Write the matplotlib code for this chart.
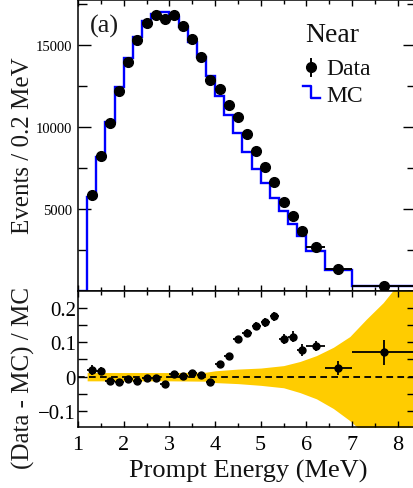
import numpy as np
import matplotlib
matplotlib.use("Agg")
import matplotlib.pyplot as plt
from matplotlib.lines import Line2D
from matplotlib.ticker import MultipleLocator

plt.rcParams['font.family'] = ['Liberation Serif', 'DejaVu Serif']

# bin edges (MeV) -- 0.2 MeV bins up to 6, then wider ones
edges = [1.0, 1.2, 1.4, 1.6, 1.8, 2.0, 2.2, 2.4, 2.6, 2.8, 3.0, 3.2, 3.4, 3.6,
         3.8, 4.0, 4.2, 4.4, 4.6, 4.8, 5.0, 5.2, 5.4, 5.6, 5.8, 6.0, 6.4, 7.0, 8.4]
mc = [0, 5713, 8152, 10323, 12420, 14189, 15467, 16482, 16890, 16992, 16700,
      16077, 15203, 14248, 13089, 11911, 10732, 9614, 8496, 7439, 6565, 5650,
      4898, 4085, 3374, 2459, 1301, 285]

# data points (bin centres)
centers = [1.3, 1.5, 1.7, 1.9, 2.1, 2.3, 2.5, 2.7, 2.9, 3.1, 3.3, 3.5, 3.7, 3.9,
           4.1, 4.3, 4.5, 4.7, 4.9, 5.1, 5.3, 5.5, 5.7, 5.9, 6.2, 6.7, 7.7]
data = [5854, 8252, 10244, 12195, 13984, 15305, 16341, 16829, 16585, 16829,
        16179, 15366, 14289, 12866, 12317, 11341, 10589, 9573, 8557, 7581,
        6667, 5407, 4553, 3659, 2703, 1341, 285]
data_err = [76, 91, 101, 110, 118, 124, 128, 130, 129, 130, 127, 124, 120, 113,
            111, 106, 103, 98, 92, 87, 82, 74, 67, 60, 52, 37, 17]

# (Data - MC) / MC
ratio = [0.020, 0.016, -0.013, -0.016, -0.008, -0.011, -0.005, -0.005, -0.021,
         0.008, 0.002, 0.012, 0.006, -0.015, 0.036, 0.059, 0.108, 0.127, 0.146,
         0.157, 0.175, 0.109, 0.116, 0.078, 0.088, 0.025, 0.070]
ratio_err = [0.014, 0.012, 0.010, 0.009, 0.009, 0.008, 0.008, 0.008, 0.008,
             0.008, 0.008, 0.008, 0.009, 0.009, 0.009, 0.010, 0.010, 0.011,
             0.011, 0.012, 0.013, 0.014, 0.015, 0.017, 0.014, 0.020, 0.036]

# systematic band
band_x = [1.2, 3.0, 3.8, 4.0, 4.5, 5.0, 5.5, 5.86, 6.22, 6.59, 6.95, 7.31, 7.68, 7.9, 8.4]
band_up = [0.012, 0.012, 0.013, 0.017, 0.022, 0.025, 0.032, 0.044, 0.061, 0.085,
           0.116, 0.166, 0.214, 0.25, 0.36]
band_dn = [-0.012, -0.012, -0.013, -0.017, -0.020, -0.025, -0.032, -0.046, -0.064,
           -0.092, -0.127, -0.17, -0.22, -0.25, -0.36]

top_ticks = [5000, 10000, 15000]
ratio_ticks = [-0.1, 0, 0.1, 0.2]
ratio_labels = ['\u22120.1', '0', '0.1', '0.2']
x_ticks = [1, 2, 3, 4, 5, 6, 7, 8]

edges_a = np.array(edges)
xerr = np.diff(edges_a)[1:] / 2

W, H = 414, 489
fig = plt.figure(figsize=(W / 100, H / 100), dpi=100)
ax1 = fig.add_axes([78 / W, 1 - 292 / H, 1.005 - 78 / W, 291.5 / H])
ax2 = fig.add_axes([78 / W, 1 - 428 / H, 1.005 - 78 / W, 136 / H])

# top panel
ax1.stairs(mc, edges, color='#0000ff', lw=1.7, zorder=2)
ax1.errorbar(centers, data, yerr=data_err, xerr=xerr, fmt='o', color='k',
             ms=7, elinewidth=1.4, capsize=0, zorder=3)
ax1.set_xlim(1, 8.4)
ax1.set_ylim(0, 17780)
ax1.set_yticks(top_ticks)
ax1.yaxis.set_minor_locator(MultipleLocator(2500))
ax1.xaxis.set_major_locator(MultipleLocator(1))
ax1.xaxis.set_minor_locator(MultipleLocator(0.5))
ax1.tick_params(which='both', direction='in', top=True, right=True,
                labelbottom=False, width=1.0)
ax1.tick_params(axis='y', which='major', length=9.5, labelsize=10.5, pad=4)
ax1.tick_params(axis='y', which='minor', length=6.5)
ax1.tick_params(axis='x', which='major', length=4)
ax1.tick_params(axis='x', which='minor', length=3)

# ratio panel
ax2.fill_between(band_x, band_dn, band_up, color='#ffcc00', lw=0, zorder=1)
ax2.axhline(0, color='k', lw=1.3, ls=(0, (3.7, 2.4)), zorder=2)
ax2.errorbar(centers, ratio, yerr=ratio_err, xerr=xerr, fmt='o', color='k',
             ms=5, elinewidth=1.3, capsize=0, zorder=3)
ax2.set_xlim(1, 8.4)
ax2.set_ylim(-0.1454, 0.2477)
ax2.set_yticks(ratio_ticks)
ax2.set_yticklabels(ratio_labels)
ax2.yaxis.set_minor_locator(MultipleLocator(0.05))
ax2.set_xticks(x_ticks)
ax2.xaxis.set_minor_locator(MultipleLocator(0.5))
ax2.tick_params(which='both', direction='in', top=True, right=True, width=1.0)
ax2.tick_params(axis='y', which='both', length=6.5, labelsize=15, pad=1.5)
ax2.tick_params(axis='x', which='major', length=4, labelsize=16, pad=6)
ax2.tick_params(axis='x', which='minor', length=3)

for ax in (ax1, ax2):
    for s in ax.spines.values():
        s.set_linewidth(1.1)

# labels
fig.text(23 / W, 1 - 146 / H, 'Events / 0.2 MeV', rotation=90, ha='center',
         va='center', fontsize=18, color='#1a1a1a')
fig.text(23 / W, 1 - 378 / H, '(Data - MC) / MC', rotation=90, ha='center',
         va='center', fontsize=18, color='#1a1a1a')
fig.text(248 / W, 1 - 471 / H, 'Prompt Energy (MeV)', ha='center', va='center',
         fontsize=19, color='#111111')

# panel tag and legend
fig.text(90 / W, 1 - 33 / H, '(a)', fontsize=19, va='baseline', color='#1a1a1a')
fig.text(305 / W, 1 - 42 / H, 'Near', fontsize=20, va='baseline', color='#111111')
fig.text(326 / W, 1 - 75 / H, 'Data', fontsize=17, va='baseline', color='#111111')
fig.text(326 / W, 1 - 101.5 / H, 'MC', fontsize=17, va='baseline', color='#111111')
fig.add_artist(Line2D([311 / W, 311 / W], [1 - 60 / H, 1 - 77 / H], color='k', lw=1.4))
fig.add_artist(Line2D([311 / W], [1 - 68 / H], marker='o', color='k', ms=7))
fig.add_artist(Line2D([303 / W, 311 / W, 311 / W, 320 / W],
                      [1 - 87 / H, 1 - 87 / H, 1 - 99 / H, 1 - 99 / H],
                      color='#0000ff', lw=1.7))

fig.savefig('out.png', dpi=100)
